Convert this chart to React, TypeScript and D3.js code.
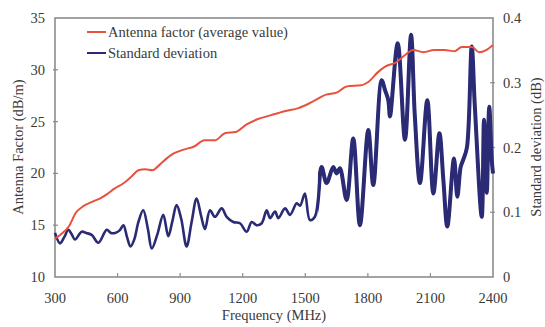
import React from "react";
import * as d3 from "d3";

// Antenna factor (average value), dB/m
const afFreq = [300, 333, 367, 400, 433, 483, 517, 550, 583, 625, 667, 700, 733, 767, 800, 833, 867, 917, 967, 1017, 1067, 1117, 1167, 1217, 1267, 1333, 1400, 1467, 1533, 1600, 1650, 1700, 1767, 1800, 1850, 1883, 1933, 1983, 2017, 2067, 2117, 2167, 2217, 2250, 2300, 2333, 2367, 2400];
const afValues = [13.7, 14.2, 14.9, 16.2, 16.8, 17.3, 17.6, 18.0, 18.5, 19.0, 19.7, 20.3, 20.4, 20.3, 20.8, 21.4, 21.9, 22.3, 22.6, 23.2, 23.2, 23.9, 24.0, 24.7, 25.2, 25.6, 26.0, 26.3, 26.9, 27.6, 27.8, 28.4, 28.5, 28.8, 29.8, 30.3, 30.7, 31.5, 31.9, 31.7, 31.9, 31.9, 31.8, 32.2, 32.2, 31.7, 31.9, 32.4];

// Standard deviation, dB
const sdFreq = [300, 324, 345, 364, 380, 396, 428, 450, 476, 508, 548, 568, 588, 610, 628, 645, 662, 680, 700, 723, 745, 764, 790, 819, 843, 862, 883, 905, 931, 955, 979, 1000, 1019, 1043, 1067, 1099, 1123, 1155, 1187, 1219, 1243, 1267, 1291, 1315, 1331, 1355, 1371, 1403, 1427, 1459, 1475, 1498, 1522, 1546, 1578, 1602, 1634, 1650, 1666, 1698, 1730, 1762, 1802, 1826, 1866, 1882, 1898, 1906, 1943, 1978, 2007, 2025, 2050, 2085, 2114, 2143, 2162, 2181, 2213, 2229, 2245, 2257, 2275, 2298, 2313, 2346, 2357, 2370, 2382, 2394, 2400];
const sdValues = [0.068, 0.052, 0.062, 0.073, 0.066, 0.058, 0.070, 0.068, 0.065, 0.053, 0.073, 0.068, 0.068, 0.072, 0.080, 0.062, 0.047, 0.058, 0.085, 0.103, 0.075, 0.044, 0.065, 0.096, 0.063, 0.085, 0.111, 0.090, 0.047, 0.085, 0.121, 0.095, 0.074, 0.103, 0.093, 0.106, 0.093, 0.085, 0.083, 0.070, 0.085, 0.080, 0.083, 0.103, 0.091, 0.101, 0.091, 0.106, 0.096, 0.114, 0.110, 0.129, 0.088, 0.093, 0.170, 0.145, 0.170, 0.160, 0.168, 0.119, 0.214, 0.080, 0.227, 0.142, 0.304, 0.289, 0.273, 0.248, 0.361, 0.212, 0.374, 0.250, 0.145, 0.273, 0.129, 0.222, 0.150, 0.078, 0.183, 0.124, 0.170, 0.181, 0.200, 0.356, 0.263, 0.093, 0.243, 0.130, 0.263, 0.181, 0.160];

const xTicks = [300, 600, 900, 1200, 1500, 1800, 2100, 2400];
const leftTicks = [10, 15, 20, 25, 30, 35];
const rightTicks = [0, 0.1, 0.2, 0.3, 0.4];
const legendLabels = ["Antenna factor (average value)", "Standard deviation"];
const xTitle = "Frequency (MHz)";
const leftTitle = "Antenna Factor (dB/m)";
const rightTitle = "Standard deviation (dB)";

const W = 545, H = 327;
const M = { left: 55, right: 493, top: 18, bottom: 277 };
const FONT = "Liberation Serif, DejaVu Serif, serif";
const RED = "#e8513d";
const BLUE = "#2b2a74";
const FRAME = "#8c8c8c";
const TEXT = "#3a3a3a";
const FS = 14.5;

export default function App() {
  const x = d3.scaleLinear().domain([300, 2400]).range([M.left, M.right]);
  const yL = d3.scaleLinear().domain([10, 35]).range([M.bottom, M.top]);
  const yR = d3.scaleLinear().domain([0, 0.4]).range([M.bottom, M.top]);

  const afLine = d3
    .line<number>()
    .x((_, i) => x(afFreq[i]))
    .y((d) => yL(d))
    .curve(d3.curveMonotoneX)(afValues);
  const sdLine = d3
    .line<number>()
    .x((_, i) => x(sdFreq[i]))
    .y((d) => yR(d))
    .curve(d3.curveCatmullRom.alpha(0.5))(sdValues);

  const ts = { fontFamily: FONT, fontSize: FS, fill: TEXT } as React.CSSProperties;

  return (
    <svg width={W} height={H} style={{ position: "absolute", left: 0, top: 0, background: "#fff", fontFamily: FONT }}>
      <defs>
        <clipPath id="noisy">
          <rect x={x(1560)} y={0} width={W} height={H} />
        </clipPath>
      </defs>
      <rect x={0} y={0} width={W} height={H} fill="#fff" />
      {/* frame */}
      <rect x={M.left} y={M.top} width={M.right - M.left} height={M.bottom - M.top} fill="none" stroke={FRAME} strokeWidth={1.6} />
      {/* x ticks */}
      {xTicks.map((t) => (
        <g key={"x" + t}>
          {t > 300 && t < 2400 && <line x1={x(t)} x2={x(t)} y1={M.bottom} y2={M.bottom - 4} stroke={FRAME} strokeWidth={1.2} />}
          <text x={x(t)} y={303} textAnchor="middle" style={ts}>{t}</text>
        </g>
      ))}
      {leftTicks.map((t) => (
        <g key={"l" + t}>
          {t > 10 && t < 35 && <line x1={M.left - 2} x2={M.left + 3} y1={yL(t)} y2={yL(t)} stroke={FRAME} strokeWidth={1.2} />}
          <text x={45} y={yL(t)} dy="0.35em" textAnchor="end" style={ts}>{t}</text>
        </g>
      ))}
      {rightTicks.map((t) => (
        <g key={"r" + t}>
          {t > 0 && t < 0.4 && <line x1={M.right - 3} x2={M.right + 2} y1={yR(t)} y2={yR(t)} stroke={FRAME} strokeWidth={1.2} />}
          <text x={503} y={yR(t)} dy="0.35em" textAnchor="start" style={ts}>{t === 0 ? "0" : t.toFixed(1)}</text>
        </g>
      ))}
      {/* titles */}
      <text x={(M.left + M.right) / 2} y={320} textAnchor="middle" style={ts}>{xTitle}</text>
      <text transform={`translate(18,147) rotate(-90)`} textAnchor="middle" dy="0.35em" style={ts}>{leftTitle}</text>
      <text transform={`translate(536,147) rotate(-90)`} textAnchor="middle" dy="0.35em" style={ts}>{rightTitle}</text>
      {/* data */}
      <path d={sdLine || ""} fill="none" stroke={BLUE} strokeWidth={2.6} strokeLinejoin="round" />
      <path d={sdLine || ""} fill="none" stroke={BLUE} strokeWidth={4} strokeLinejoin="round" clipPath="url(#noisy)" />
      <path d={afLine || ""} fill="none" stroke={RED} strokeWidth={2} />
      {/* legend */}
      <line x1={87} x2={106} y1={32} y2={32} stroke={RED} strokeWidth={2} />
      <text x={108} y={32} dy="0.35em" style={ts}>{legendLabels[0]}</text>
      <line x1={87} x2={106} y1={53} y2={53} stroke={BLUE} strokeWidth={2} />
      <text x={108} y={53} dy="0.35em" style={ts}>{legendLabels[1]}</text>
    </svg>
  );
}
